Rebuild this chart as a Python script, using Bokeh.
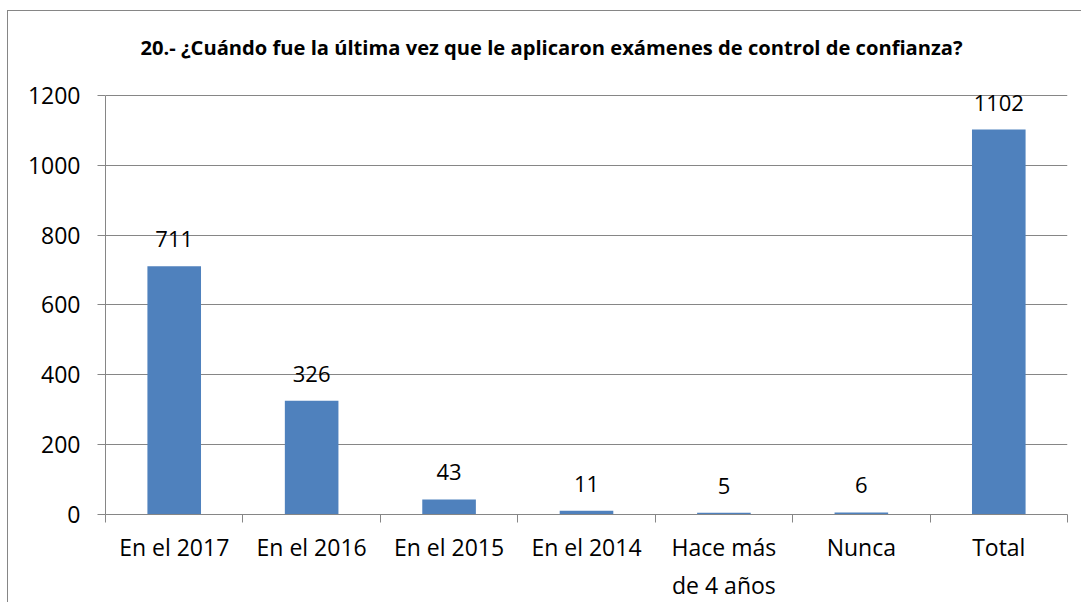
from bokeh.plotting import figure
from bokeh.models import Range1d, FixedTicker, ColumnDataSource
from bokeh.embed import file_html
from bokeh.resources import INLINE
from bokeh.core.properties import value

# ---- data ----
categories = ["En el 2017", "En el 2016", "En el 2015", "En el 2014",
              "Hace más\nde 4 años", "Nunca", "Total"]
counts = [711, 326, 43, 11, 5, 6, 1102]
y_ticks = [0, 200, 400, 600, 800, 1000, 1200]
title_text = "20.- ¿Cuándo  fue la última vez que le aplicaron exámenes de control de confianza?"

GRAY = "#868686"
BAR = "#4F81BD"
FONT = "Open Sans"

positions = [i + 0.5 for i in range(len(categories))]
boundaries = list(range(len(categories) + 1))
y_max = y_ticks[-1]

src = ColumnDataSource(dict(x=positions, top=counts, label=[str(c) for c in counts]))

# plot frame extends above the top tick so the title can be drawn inside it
PX_PER_UNIT = 420 / y_max
HEAD_PX = 74
p = figure(width=1074, height=592, output_backend="svg", toolbar_location=None,
           x_range=Range1d(0, len(categories)),
           y_range=Range1d(0, y_max + HEAD_PX / PX_PER_UNIT),
           min_border_left=97, min_border_right=15, min_border_top=10, min_border_bottom=88)
p.styles = {"border-left": "1px solid " + GRAY, "border-top": "1px solid " + GRAY,
            "margin-top": "10px", "margin-left": "7px"}
p.outline_line_color = None
p.background_fill_color = "white"
p.border_fill_color = "white"

p.vbar(x="x", top="top", width=0.39, bottom=0, source=src, fill_color=BAR, line_color=None)
p.text(x="x", y="top", text="label", source=src, text_align="center",
       text_baseline="alphabetic", y_offset=-27, text_font=value(FONT),
       text_font_size="22px", text_color="black")

# title
p.text(x=[0], y=[y_max], text=[title_text], x_offset=35, y_offset=-48,
       text_align="left", text_baseline="alphabetic", text_font=value(FONT),
       text_font_style="bold", text_font_size="20.15px", text_color="black")

# x axis
xa = p.xaxis[0]
xa.ticker = FixedTicker(ticks=positions, minor_ticks=boundaries)
xa.major_label_overrides = {pos: cat for pos, cat in zip(positions, categories)}
xa.major_tick_out = 0
xa.major_tick_in = 0
xa.minor_tick_out = 8
xa.minor_tick_in = 0
xa.minor_tick_line_color = GRAY
xa.axis_line_color = GRAY
xa.major_label_text_font = FONT
xa.major_label_text_font_size = "23px"
xa.major_label_text_color = "black"
xa.major_label_standoff = 8

# y axis
ya = p.yaxis[0]
ya.ticker = FixedTicker(ticks=y_ticks)
ya.bounds = (0, y_max)
ya.major_tick_out = 8
ya.major_tick_in = 0
ya.minor_tick_line_color = None
ya.axis_line_color = GRAY
ya.major_tick_line_color = GRAY
ya.major_label_text_font = FONT
ya.major_label_text_font_size = "23px"
ya.major_label_text_color = "black"
ya.major_label_standoff = 17

p.xgrid.grid_line_color = None
p.ygrid.grid_line_color = GRAY
p.ygrid.ticker = FixedTicker(ticks=y_ticks)

open("out.html", "w").write(file_html(p, INLINE))
